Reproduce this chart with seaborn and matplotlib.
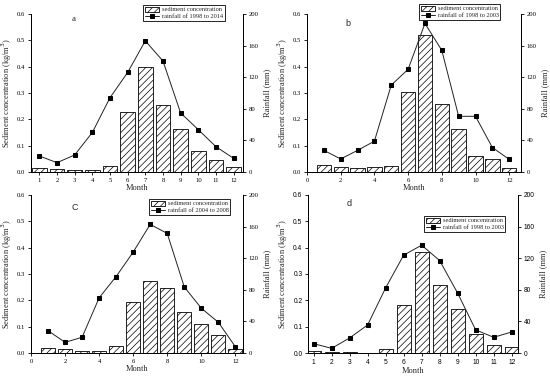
import matplotlib
matplotlib.use("Agg")
import matplotlib.pyplot as plt
import seaborn as sns
import pandas as pd
import numpy as np

sns.set_theme(style="white")
plt.rcParams['font.family'] = ['Liberation Serif', 'DejaVu Serif']
plt.rcParams['hatch.linewidth'] = 0.5
plt.rcParams['hatch.color'] = 'black'

months = list(range(1, 13))

sed_a = [0.015, 0.011, 0.009, 0.008, 0.021, 0.228, 0.399, 0.254, 0.163, 0.080, 0.046, 0.018]
rain_a = [20.3, 11.8, 21.5, 50.0, 94.0, 126.0, 166.0, 140.5, 74.7, 53.6, 32.0, 17.3]

sed_b = [0.027, 0.018, 0.014, 0.019, 0.023, 0.304, 0.519, 0.258, 0.163, 0.059, 0.051, 0.016]
rain_b = [27.4, 16.5, 27.4, 39.0, 110.0, 130.0, 188.0, 154.0, 70.5, 70.5, 31.0, 16.0]

sed_c = [0.018, 0.014, 0.006, 0.006, 0.025, 0.193, 0.272, 0.245, 0.157, 0.112, 0.067, 0.016]
rain_c = [28.3, 13.5, 19.9, 69.8, 96.8, 127.7, 162.8, 151.4, 83.7, 56.7, 38.9, 8.0]

sed_d = [0.006, 0.004, 0.005, 0.001, 0.016, 0.181, 0.384, 0.260, 0.168, 0.072, 0.029, 0.024]
rain_d = [11.8, 5.9, 19.0, 35.5, 82.4, 123.8, 136.5, 117.0, 75.7, 29.2, 19.9, 26.6]

panel_letters = ['a', 'b', 'C', 'd']
rain_labels = ['rainfall of 1998 to 2014', 'rainfall of 1998 to 2003',
               'rainfall of 2004 to 2008', 'rainfall of 1998 to 2003']
bar_label = 'sediment concentration'

W, H = 550, 382
fig = plt.figure(figsize=(5.5, 3.82), dpi=100)

# axes rectangles in pixels: left, right, top, bottom
rects = [(31, 243, 14, 172), (307, 521, 14, 172), (31, 243, 195, 353), (308, 518, 195, 353)]
xlims = [(0.53, 12.53), (0, 12.7), (0, 12.45), (0.69, 12.35)]
xticks = [months, list(range(0, 13, 2)), list(range(0, 13, 2)), months]
widths = [0.82, 0.85, 0.82, 0.78]
letter_pos = [(74, 19), (348, 23), (75, 208), (349, 204)]
letter_font = ['Liberation Serif', 'Liberation Sans', 'Liberation Sans', 'Liberation Sans']
legend_pos = [(143, 5), (419, 4), (149, 199), (424, 216)]
tick_font = ['Liberation Serif', 'Liberation Serif', 'Liberation Serif', 'Liberation Sans']

seds = [sed_a, sed_b, sed_c, sed_d]
rains = [rain_a, rain_b, rain_c, rain_d]

for i in range(4):
    l, r, t, b = rects[i]
    ax = fig.add_axes([l / W, 1 - b / H, (r - l) / W, (b - t) / H])
    df = pd.DataFrame({'Month': months, 'sed': seds[i], 'rain': rains[i]})
    sns.barplot(data=df, x='Month', y='sed', ax=ax, native_scale=True,
                color='white', edgecolor='black', linewidth=0.6,
                width=widths[i], errorbar=None)
    for p in ax.patches:
        p.set_facecolor('white')
        p.set_hatch('/////')
    if ax.get_legend() is not None:
        ax.get_legend().remove()
    ax.set_xlim(*xlims[i])
    ax.set_ylim(0, 0.6)
    ax.set_yticks(np.arange(0, 0.61, 0.1))
    ax.set_yticklabels([f"{v:.1f}" for v in np.arange(0, 0.61, 0.1)])
    ax.set_xticks(xticks[i])
    ax.set_xticklabels([str(v) for v in xticks[i]])
    ax.set_xlabel('Month', fontsize=6, labelpad=1)
    ax.set_ylabel('Sediment concentration (kg/m$^3$)', fontsize=6, labelpad=2)

    ax2 = ax.twinx()
    sns.lineplot(data=df, x='Month', y='rain', ax=ax2, color='#222222',
                 linewidth=0.7, marker='s', markersize=3.0, markeredgecolor='black',
                 markerfacecolor='black', legend=False)
    ax2.set_ylim(0, 200)
    ax2.set_yticks(range(0, 201, 40))
    ax2.set_ylabel('Rainfall (mm)', fontsize=6, labelpad=3)
    ax2.set_xlim(*xlims[i])

    for a in (ax, ax2):
        a.spines['top'].set_visible(False)
        for s in a.spines.values():
            s.set_color('black')
            s.set_linewidth(0.7)
        a.tick_params(direction='out', length=2.5, width=0.6, labelsize=4.8, pad=1.5,
                      colors='black')
        for lab in a.get_xticklabels() + a.get_yticklabels():
            lab.set_fontfamily(tick_font[i])
    ax.tick_params(axis='x', bottom=True)
    ax.tick_params(axis='y', left=True)
    ax2.tick_params(axis='y', right=True)

    bar_handle = ax.patches[0]
    line_handle = ax2.lines[0]
    lx, ly = legend_pos[i]
    leg = fig.legend([bar_handle, line_handle], [bar_label, rain_labels[i]], loc='upper left',
                     bbox_to_anchor=(lx / W, 1 - ly / H), fontsize=4.6,
                     frameon=True, fancybox=False, edgecolor='black', framealpha=1,
                     borderpad=0.25, labelspacing=0.15, handlelength=2.2,
                     handleheight=0.9, handletextpad=0.5, borderaxespad=0)
    leg.get_frame().set_linewidth(0.6)

    px, py = letter_pos[i]
    fig.text(px / W, 1 - py / H, panel_letters[i], fontsize=6.5,
             family=letter_font[i], ha='center', va='center')

fig.savefig('out.png', dpi=100)
